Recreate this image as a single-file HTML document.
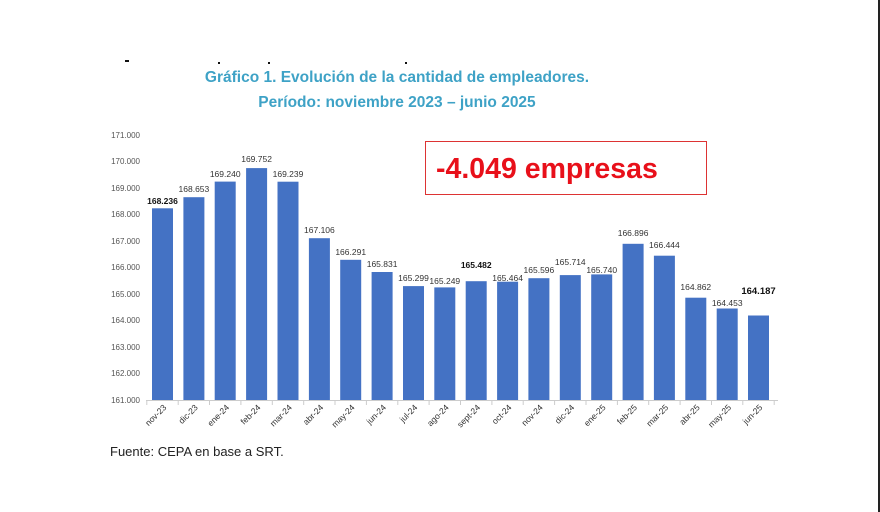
<!DOCTYPE html>
<html><head><meta charset="utf-8"><style>
body{margin:0;background:#fff;width:880px;height:512px;overflow:hidden}
svg{display:block;font-family:"Liberation Sans",sans-serif}
</style></head><body>
<svg width="880" height="512" viewBox="0 0 880 512">
<rect x="878" y="0" width="2" height="512" fill="#222"/>
<g fill="#111"><rect x="125" y="60" width="4" height="2"/><rect x="218" y="62" width="2" height="2"/><rect x="268" y="62" width="2" height="2"/><rect x="405" y="62" width="2" height="2"/></g>
<g fill="#3ea2c6" font-weight="bold" font-size="15.5" text-anchor="middle">
<text x="397" y="82">Gráfico 1. Evolución de la cantidad de empleadores.</text>
<text x="397" y="107">Período: noviembre 2023 – junio 2025</text>
</g>
<rect x="425.5" y="141.5" width="281" height="53" fill="#fff" stroke="#d33" stroke-width="1"/>
<text x="436" y="178" fill="#e8101a" font-weight="bold" font-size="28.5">-4.049 empresas</text>
<g fill="#555" font-size="8" text-anchor="end">
<text x="140" y="138">171.000</text><text x="140" y="164">170.000</text><text x="140" y="191">169.000</text><text x="140" y="217">168.000</text><text x="140" y="244">167.000</text><text x="140" y="270">166.000</text><text x="140" y="297">165.000</text><text x="140" y="323">164.000</text><text x="140" y="350">163.000</text><text x="140" y="376">162.000</text><text x="140" y="403">161.000</text>
</g>
<line x1="146" y1="400.5" x2="778" y2="400.5" stroke="#ccc"/>
<g stroke="#ccc">
<line x1="146.8" y1="400" x2="146.8" y2="405"/><line x1="178.2" y1="400" x2="178.2" y2="405"/><line x1="209.5" y1="400" x2="209.5" y2="405"/><line x1="240.9" y1="400" x2="240.9" y2="405"/><line x1="272.3" y1="400" x2="272.3" y2="405"/><line x1="303.7" y1="400" x2="303.7" y2="405"/><line x1="335" y1="400" x2="335" y2="405"/><line x1="366.4" y1="400" x2="366.4" y2="405"/><line x1="397.8" y1="400" x2="397.8" y2="405"/><line x1="429.1" y1="400" x2="429.1" y2="405"/><line x1="460.5" y1="400" x2="460.5" y2="405"/><line x1="491.9" y1="400" x2="491.9" y2="405"/><line x1="523.2" y1="400" x2="523.2" y2="405"/><line x1="554.6" y1="400" x2="554.6" y2="405"/><line x1="586" y1="400" x2="586" y2="405"/><line x1="617.4" y1="400" x2="617.4" y2="405"/><line x1="648.7" y1="400" x2="648.7" y2="405"/><line x1="680.1" y1="400" x2="680.1" y2="405"/><line x1="711.5" y1="400" x2="711.5" y2="405"/><line x1="742.8" y1="400" x2="742.8" y2="405"/><line x1="774.2" y1="400" x2="774.2" y2="405"/>
</g>
<g fill="#4472c4">
<rect x="152" y="208.3" width="21" height="191.7"/>
<rect x="183.4" y="197.2" width="21" height="202.8"/>
<rect x="214.7" y="181.6" width="21" height="218.4"/>
<rect x="246.1" y="168.1" width="21" height="231.9"/>
<rect x="277.5" y="181.7" width="21" height="218.3"/>
<rect x="308.9" y="238.2" width="21" height="161.8"/>
<rect x="340.2" y="259.8" width="21" height="140.2"/>
<rect x="371.6" y="272" width="21" height="128"/>
<rect x="403" y="286.1" width="21" height="113.9"/>
<rect x="434.3" y="287.4" width="21" height="112.6"/>
<rect x="465.7" y="281.2" width="21" height="118.8"/>
<rect x="497.1" y="281.7" width="21" height="118.3"/>
<rect x="528.4" y="278.2" width="21" height="121.8"/>
<rect x="559.8" y="275.1" width="21" height="124.9"/>
<rect x="591.2" y="274.4" width="21" height="125.6"/>
<rect x="622.6" y="243.8" width="21" height="156.2"/>
<rect x="653.9" y="255.7" width="21" height="144.3"/>
<rect x="685.3" y="297.7" width="21" height="102.3"/>
<rect x="716.7" y="308.5" width="21" height="91.5"/>
<rect x="748" y="315.5" width="21" height="84.5"/>
</g>
<g fill="#333" font-size="8.5" text-anchor="middle">
<text x="162.5" y="204" font-weight="bold" fill="#111">168.236</text>
<text x="193.9" y="192">168.653</text>
<text x="225.2" y="177">169.240</text>
<text x="256.6" y="162">169.752</text>
<text x="288" y="177">169.239</text>
<text x="319.4" y="233">167.106</text>
<text x="350.7" y="255">166.291</text>
<text x="382.1" y="267">165.831</text>
<text x="413.5" y="281">165.299</text>
<text x="444.8" y="284">165.249</text>
<text x="476.2" y="268" font-weight="bold" fill="#111">165.482</text>
<text x="507.6" y="281">165.464</text>
<text x="538.9" y="273">165.596</text>
<text x="570.3" y="265">165.714</text>
<text x="601.7" y="273">165.740</text>
<text x="633.1" y="236">166.896</text>
<text x="664.4" y="248">166.444</text>
<text x="695.8" y="290">164.862</text>
<text x="727.2" y="306">164.453</text>
<text x="758.5" y="294" font-weight="bold" fill="#111" font-size="9.5">164.187</text>
</g>
<g fill="#333" font-size="8.5" text-anchor="end">
<text transform="translate(167,408) rotate(-45)">nov-23</text>
<text transform="translate(198.4,408) rotate(-45)">dic-23</text>
<text transform="translate(229.7,408) rotate(-45)">ene-24</text>
<text transform="translate(261.1,408) rotate(-45)">feb-24</text>
<text transform="translate(292.5,408) rotate(-45)">mar-24</text>
<text transform="translate(323.9,408) rotate(-45)">abr-24</text>
<text transform="translate(355.2,408) rotate(-45)">may-24</text>
<text transform="translate(386.6,408) rotate(-45)">jun-24</text>
<text transform="translate(418,408) rotate(-45)">jul-24</text>
<text transform="translate(449.3,408) rotate(-45)">ago-24</text>
<text transform="translate(480.7,408) rotate(-45)">sept-24</text>
<text transform="translate(512.1,408) rotate(-45)">oct-24</text>
<text transform="translate(543.4,408) rotate(-45)">nov-24</text>
<text transform="translate(574.8,408) rotate(-45)">dic-24</text>
<text transform="translate(606.2,408) rotate(-45)">ene-25</text>
<text transform="translate(637.6,408) rotate(-45)">feb-25</text>
<text transform="translate(668.9,408) rotate(-45)">mar-25</text>
<text transform="translate(700.3,408) rotate(-45)">abr-25</text>
<text transform="translate(731.7,408) rotate(-45)">may-25</text>
<text transform="translate(763,408) rotate(-45)">jun-25</text>
</g>
<text x="110" y="456" fill="#222" font-size="13">Fuente: CEPA en base a SRT.</text>
</svg>
</body></html>
